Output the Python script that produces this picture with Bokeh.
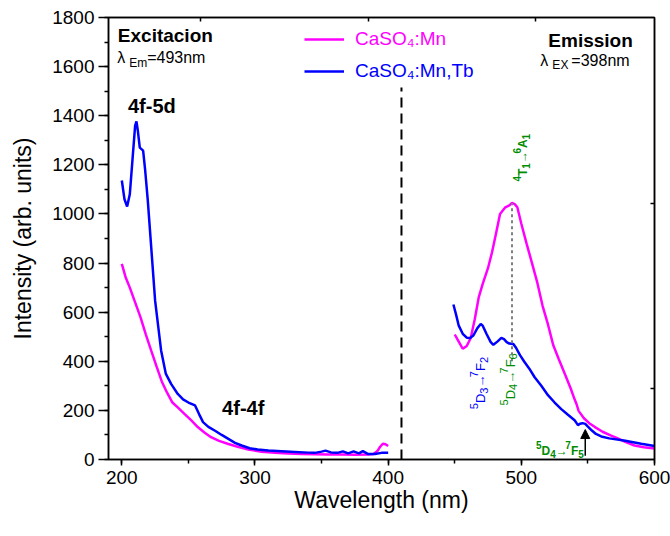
import math
from bokeh.plotting import figure
from bokeh.models import (LinearAxis, SingleIntervalTicker, FixedTicker, Legend, LegendItem,
                          Arrow, NormalHead, Range1d)
from bokeh.core.properties import value
from bokeh.embed import file_html
from bokeh.resources import INLINE

# ---------------- data ----------------
ex_mn_x = [200, 203, 206, 210, 214, 218, 222, 226, 230, 234, 238, 242, 247, 252, 257, 262, 267, 273,
           280, 287, 295, 305, 315, 325, 335, 345, 355, 365, 375, 385, 389, 392, 394, 396, 398, 400]
ex_mn_y = [797, 740, 700, 640, 580, 510, 444, 380, 318, 272, 232, 212, 186, 160, 132, 110, 91, 76,
           63, 52, 41, 32, 27, 24, 22, 21, 20, 20, 19, 20, 22, 35, 52, 64, 62, 55]

ex_tb_x = [200, 202, 204, 206, 208, 210, 211, 212, 213.5, 216, 217.5, 219.5, 222, 225, 229.5, 233, 237,
           242, 246, 250, 255, 258, 261, 265, 270, 275, 280, 285, 290, 296, 302, 310, 320, 330, 340,
           345, 350, 353, 357, 362, 366, 370, 374, 378, 381, 385, 390, 395, 400]
ex_tb_y = [1136, 1060, 1030, 1080, 1220, 1360, 1377, 1340, 1270, 1258, 1180, 1055, 870, 647, 444, 350, 308,
           267, 245, 232, 220, 185, 152, 133, 117, 100, 84, 68, 57, 46, 41, 37, 34, 31, 28,
           27, 32, 36, 29, 27, 33, 25, 33, 25, 34, 22, 22, 27, 27]

em_mn_x = [450, 453, 456, 459, 462, 465, 468, 471, 475, 478, 481, 484, 488, 491, 493, 495, 497, 500,
           504, 508, 512, 516, 520, 524, 528, 533, 537, 540, 541.5, 543, 547, 551, 555, 561, 567,
           572, 578, 585, 592, 600]
em_mn_y = [509, 480, 451, 462, 495, 570, 660, 715, 780, 844, 920, 1000, 1027, 1035, 1045, 1040, 1027, 960,
           878, 800, 720, 625, 550, 465, 410, 344, 290, 245, 225, 198, 168, 148, 133, 113, 98,
           87, 72, 57, 50, 45]

em_tb_x = [449, 451, 453, 456, 459, 461.5, 464, 467, 469.5, 471, 474, 477, 479, 482, 485, 487, 489, 491,
           494, 496, 499, 502, 506, 510, 515, 520, 525, 530, 535, 540, 541.5, 542.5, 544, 546, 548,
           550, 553, 556, 560, 566, 571, 577, 584, 590, 600]
em_tb_y = [631, 590, 545, 512, 496, 495, 505, 535, 552, 545, 510, 478, 467, 480, 495, 490, 478, 472,
           470, 455, 425, 400, 370, 335, 300, 262, 232, 205, 182, 160, 148, 140, 146, 148, 145,
           134, 118, 104, 94, 86, 82, 77, 70, 64, 55]

series_labels = ["CaSO\u2084:Mn", "CaSO\u2084:Mn,Tb"]

MAG = "#FF00FF"
BLU = "#0000FF"
GRN = "#008C00"
FONT = value("Liberation Sans")

W, H = 670, 536
BL, BR, BT, BB = 108, 16, 17, 77
X0, X1, Y0, Y1 = 190, 600, 0, 1800
PXX = (W - BL - BR) / (X1 - X0)   # px per x unit
PXY = (H - BT - BB) / (Y1 - Y0)   # px per y unit

p = figure(width=W, height=H, output_backend="svg", toolbar_location=None,
           x_range=Range1d(X0, X1), y_range=Range1d(Y0, Y1),
           min_border_left=BL, min_border_right=BR, min_border_top=BT, min_border_bottom=BB)
p.xgrid.visible = False
p.ygrid.visible = False
p.outline_line_color = "black"
p.outline_line_width = 1.5
p.background_fill_color = "white"
p.border_fill_color = "white"

for ax, tk in ((p.xaxis[0], SingleIntervalTicker(interval=100, num_minor_ticks=2)),
               (p.yaxis[0], SingleIntervalTicker(interval=200, num_minor_ticks=2))):
    ax.ticker = tk
    ax.axis_line_width = 1.5
    ax.major_tick_line_width = 1.5
    ax.minor_tick_line_width = 1.5
    ax.major_tick_in = 0
    ax.minor_tick_in = 0
    ax.major_label_text_font = "Liberation Sans"
    ax.major_label_text_font_size = "19px"
    ax.major_label_text_color = "black"
    ax.axis_label_text_font = "Liberation Sans"
    ax.axis_label_text_font_style = "normal"
    ax.axis_label_text_font_size = "23px"
    ax.axis_label_text_color = "black"

p.xaxis[0].axis_label = "Wavelength (nm)"
p.xaxis[0].major_tick_out = 6
p.xaxis[0].minor_tick_out = 4
p.xaxis[0].major_label_standoff = 5
p.xaxis[0].axis_label_standoff = 0
p.yaxis[0].axis_label = "Intensity (arb. units)"
p.yaxis[0].major_tick_out = 10
p.yaxis[0].minor_tick_out = 4
p.yaxis[0].major_label_standoff = 4
p.yaxis[0].axis_label_standoff = 13

# top / right frame axes with inward ticks only
top = LinearAxis(ticker=FixedTicker(ticks=[], minor_ticks=[259, 385, 511]),
                 major_tick_in=0, major_tick_out=0, minor_tick_in=4, minor_tick_out=0,
                 axis_line_width=1.5, minor_tick_line_width=1.5)
right = LinearAxis(ticker=FixedTicker(ticks=[], minor_ticks=[290, 1042]),
                   major_tick_in=0, major_tick_out=0, minor_tick_in=4, minor_tick_out=0,
                   axis_line_width=1.5, minor_tick_line_width=1.5)
p.add_layout(top, "above")
p.add_layout(right, "right")

# curves
r_mn = p.line(ex_mn_x, ex_mn_y, line_color=MAG, line_width=2.5)
p.line(em_mn_x, em_mn_y, line_color=MAG, line_width=2.5)
r_tb = p.line(ex_tb_x, ex_tb_y, line_color=BLU, line_width=2.5)
p.line(em_tb_x, em_tb_y, line_color=BLU, line_width=2.5)

# separators
p.segment(x0=[410], y0=[0], x1=[410], y1=[1515], line_color="black", line_width=2, line_dash="10 6")
p.segment(x0=[493], y0=[400], x1=[493], y1=[1045], line_color="#808080", line_width=2, line_dash="3 3")

# legends (two, for coloured labels)
for r, lab, col, yloc in ((r_mn, series_labels[0], MAG, 409), (r_tb, series_labels[1], BLU, 377)):
    lg = Legend(items=[LegendItem(label=lab, renderers=[r])], location=(196, yloc),
                label_text_color=col, label_text_font="Liberation Sans", label_text_font_size="19px",
                glyph_width=40, glyph_height=20, label_height=20, label_standoff=11,
                padding=0, margin=0, spacing=0, border_line_color=None, background_fill_alpha=0)
    p.add_layout(lg)

# titles
def label(x, y, txt, size, bold=True):
    p.text(x=[x], y=[y], text=[txt], text_font=FONT, text_font_style="bold" if bold else "normal",
           text_font_size=size, text_baseline="middle", text_color="black")

label(197, 1726, "Excitacion", "19px")
label(520.3, 1706, "Emission", "19px")
label(204.6, 1441, "4f-5d", "20px")
label(275.3, 208, "4f-4f", "20px")

# lambda labels with subscript
for (lx, ly, sub, rest, off) in ((196.5, 1637, "Em", "=493nm", 30), (514.3, 1625, "EX", "=398nm", 31)):
    p.text(x=[lx], y=[ly], text=["\u03bb"], text_font=FONT, text_font_size="16px",
           text_baseline="middle", text_color="black")
    p.text(x=[lx], y=[ly], text=[sub], x_offset=12, y_offset=5, text_font=FONT, text_font_size="12px",
           text_baseline="middle", text_color="black")
    p.text(x=[lx], y=[ly], text=[rest], x_offset=off, text_font=FONT, text_font_size="16px",
           text_baseline="middle", text_color="black")

# rich text (super/subscripts) laid out piece by piece in data space
EM = {"D": 0.722, "F": 0.611, "T": 0.611, "A": 0.70, "\u2192": 0.8}

def rich(x, y, pieces, color, bold, vertical):
    adv = 0.0
    for txt, size, shift in pieces:
        if vertical:
            xx, yy = x - shift / PXX, y + adv / PXY
        else:
            xx, yy = x + adv / PXX, y + shift / PXY
        p.text(x=[xx], y=[yy], text=[txt], angle=math.pi / 2 if vertical else 0,
               text_font=FONT, text_font_style="bold" if bold else "normal",
               text_font_size=f"{size}px", text_baseline="alphabetic", text_align="left",
               text_color=color)
        adv += sum(EM.get(c, 0.556) for c in txt) * size

def transition(a, ma, sa, b, mb, sb, big, small):
    return [(a, small, 0.5 * big), (ma, big, 0), (sa, small, -0.25 * big), ("\u2192", big, 0),
            (b, small, 0.5 * big), (mb, big, 0), (sb, small, -0.25 * big)]

rich(501.6, 1132, transition("4", "T", "1", "6", "A", "1", 12, 10), GRN, True, True)
rich(491.5, 220, transition("5", "D", "4", "7", "F", "6", 13, 11), GRN, False, True)
rich(469.4, 205, transition("5", "D", "3", "7", "F", "2", 13, 11), BLU, False, True)
rich(511.0, 33, transition("5", "D", "4", "7", "F", "5", 12, 10), GRN, True, False)

p.add_layout(Arrow(end=NormalHead(size=9, fill_color="black", line_color="black"),
                   x_start=548, y_start=15, x_end=548, y_end=122, line_width=1.5, line_color="black"))

open("out.html", "w").write(file_html(p, INLINE))
